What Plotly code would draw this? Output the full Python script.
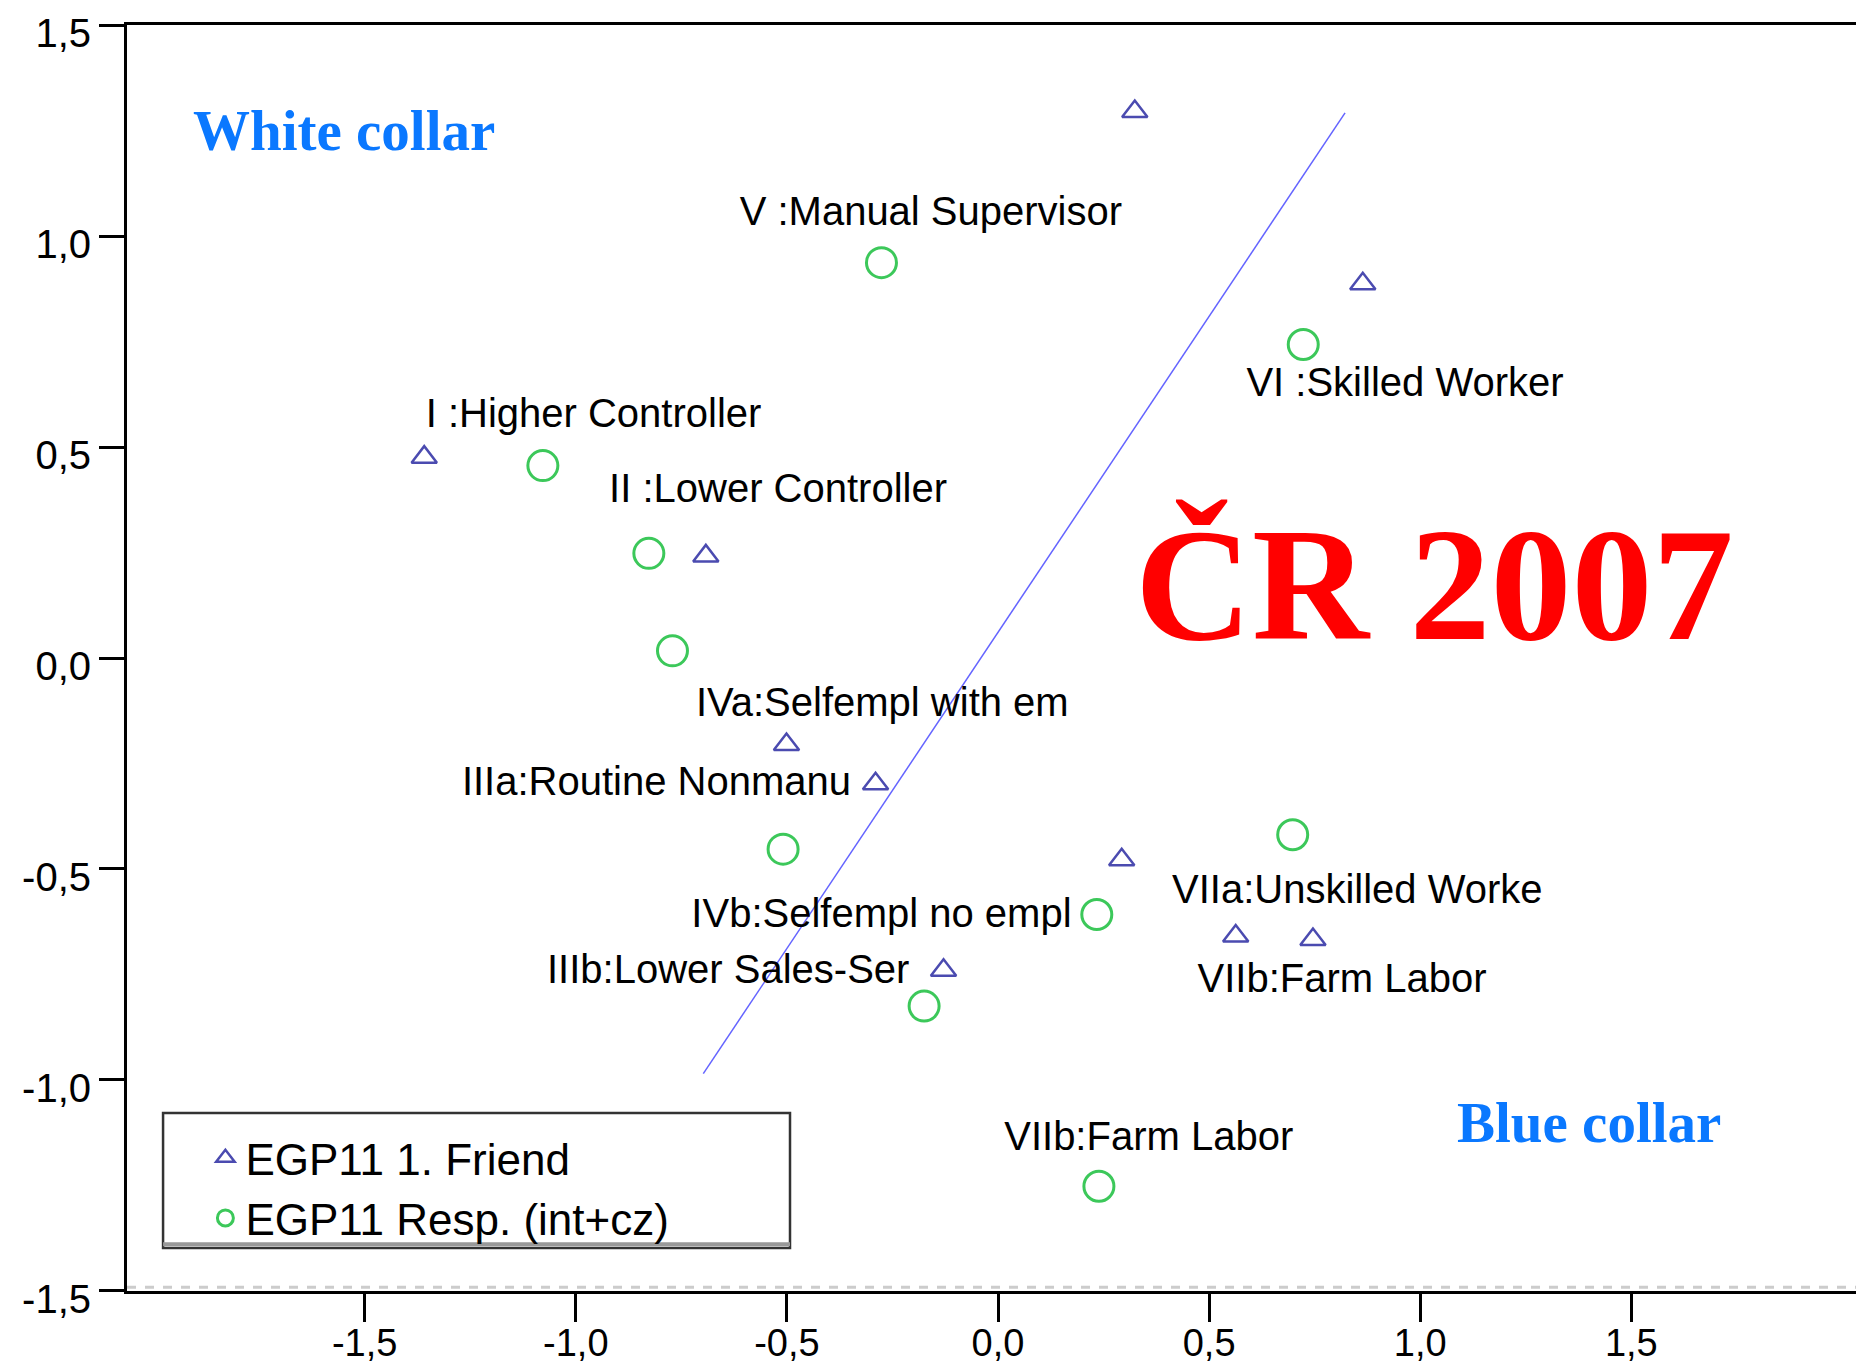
import plotly.graph_objects as go

# EGP11 1. Friend (triangles)
friend_x = [0.324, 0.864, -1.359, -0.692, -0.501, -0.290, 0.293, 0.563, 0.746, -0.129]
friend_y = [1.295, 0.887, 0.476, 0.242, -0.205, -0.298, -0.478, -0.659, -0.667, -0.740]

# EGP11 Resp. (int+cz) (circles)
resp_x = [-0.276, 0.723, -1.078, -0.827, -0.771, -0.509, 0.698, 0.234, -0.175, 0.239]
resp_y = [0.937, 0.743, 0.456, 0.248, 0.017, -0.453, -0.419, -0.608, -0.825, -1.252]

# category labels
label_text = [
    "V :Manual Supervisor", "VI :Skilled Worker", "I :Higher Controller",
    "II :Lower Controller", "IVa:Selfempl with em", "IIIa:Routine Nonmanu",
    "IVb:Selfempl no empl", "IIIb:Lower Sales-Ser", "VIIa:Unskilled Worke",
    "VIIb:Farm Labor", "VIIb:Farm Labor",
]
label_x = [-0.159, 0.964, -0.958, -0.521, -0.274, -0.809, -0.276, -0.639, 0.851, 0.815, 0.357]
label_y = [1.050, 0.645, 0.571, 0.394, -0.113, -0.301, -0.614, -0.746, -0.557, -0.768, -1.143]

# dividing line
line_x = [-0.698, 0.822]
line_y = [-0.985, 1.292]

tick_vals = [-1.5, -1.0, -0.5, 0.0, 0.5, 1.0, 1.5]
tick_text = ["-1,5", "-1,0", "-0,5", "0,0", "0,5", "1,0", "1,5"]

FONT = "Liberation Sans, Arial, sans-serif"
SERIF = "Liberation Serif, Times New Roman, serif"

fig = go.Figure()
fig.add_trace(go.Scatter(
    x=line_x, y=line_y, mode="lines",
    line=dict(color="rgb(100,100,255)", width=1.5),
    showlegend=False, hoverinfo="skip",
))
fig.add_trace(go.Scatter(
    x=label_x, y=label_y, mode="text", text=label_text,
    textfont=dict(family=FONT, size=40, color="black"),
    showlegend=False,
))
fig.add_trace(go.Scatter(
    x=friend_x, y=friend_y, mode="markers", name="EGP11 1. Friend",
    marker=dict(symbol="triangle-up-open", size=22, color="#4b4bb0", line=dict(width=2.5)),
))
fig.add_trace(go.Scatter(
    x=resp_x, y=resp_y, mode="markers", name="EGP11 Resp. (int+cz)",
    marker=dict(symbol="circle-open", size=30, color="#3cc85a", line=dict(width=3)),
))

fig.add_annotation(x=-1.548, y=1.250, text="<b>White collar</b>", showarrow=False,
                   font=dict(family=SERIF, size=57, color="#0a78ff"))
fig.add_annotation(x=1.399, y=-1.100, text="<b>Blue collar</b>", showarrow=False,
                   font=dict(family=SERIF, size=57, color="#0a78ff"))
fig.add_annotation(x=1.033, y=0.175, text="<b>ČR 2007</b>", showarrow=False,
                   font=dict(family=SERIF, size=162, color="#ff0000"))

# legend box
fig.add_shape(type="rect", xref="paper", yref="paper", x0=0.0207, x1=0.3806, y0=0.034, y1=0.1406,
              line=dict(color="#333333", width=2.5), fillcolor="rgba(0,0,0,0)", layer="below")
fig.add_shape(type="line", xref="paper", yref="paper", x0=0.0207, x1=0.3806, y0=0.037, y1=0.037,
              line=dict(color="#999999", width=4))
# grey dashed edge above the x axis
fig.add_shape(type="line", xref="paper", yref="paper", x0=0, x1=1, y0=0.003, y1=0.003,
              line=dict(color="#cccccc", width=3, dash="dash"))

axis_common = dict(
    tickvals=tick_vals, ticktext=tick_text,
    ticks="outside", tickwidth=3, tickcolor="black",
    showline=True, linecolor="black", linewidth=3, mirror=True,
    showgrid=False, zeroline=False, automargin=False,
    ticklabeloverflow="allow",
)

fig.update_layout(
    width=1864, height=1369,
    paper_bgcolor="white", plot_bgcolor="white",
    margin=dict(l=119, r=3, t=17, b=86),
    xaxis=dict(range=[-2.063, 2.063], ticklen=28, ticklabelstandoff=-12,
               tickfont=dict(family=FONT, size=38, color="black"), **axis_common),
    yaxis=dict(range=[-1.5002, 1.5002], ticklen=25, ticklabelshift=8,
               tickfont=dict(family=FONT, size=40, color="black"), **axis_common),
    legend=dict(x=0.045, y=0.133, xanchor="left", yanchor="top",
                bgcolor="rgba(0,0,0,0)", borderwidth=0,
                font=dict(family=FONT, size=44, color="black")),
    font=dict(family=FONT),
)

fig.write_html("out.html")
